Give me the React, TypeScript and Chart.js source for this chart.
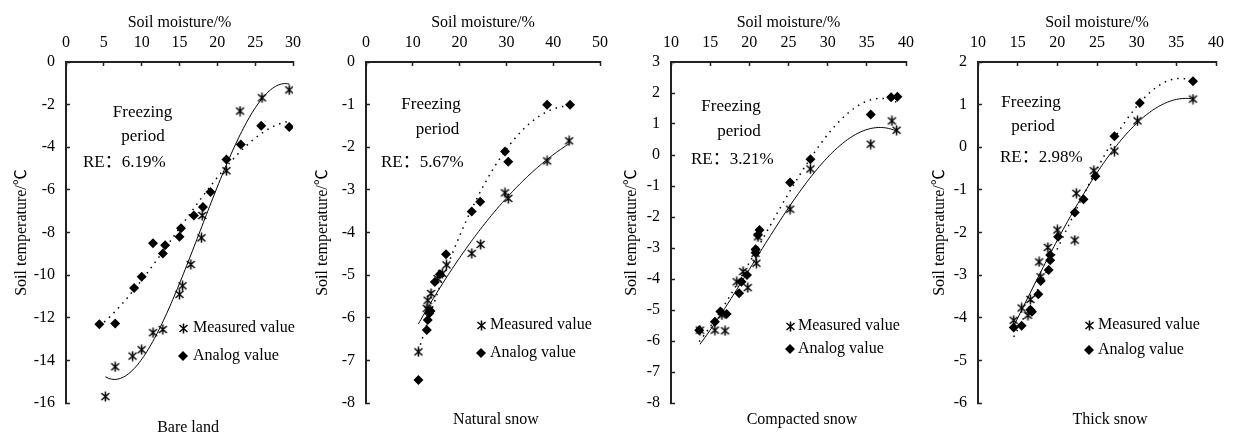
import React, { useEffect, useRef } from 'react';
import { Chart, registerables } from 'chart.js';

Chart.register(...registerables);

// ---------- DATA ----------
// Panel 1: Bare land
const bareMeasuredX = [5.2, 6.5, 8.8, 10.0, 11.5, 12.8, 15.0, 15.4, 16.5, 17.9, 18.0, 21.2, 23.0, 25.9, 29.5];
const bareMeasuredY = [-15.7, -14.3, -13.8, -13.5, -12.7, -12.55, -10.9, -10.5, -9.5, -8.25, -7.2, -5.1, -2.3, -1.68, -1.31];
const bareAnalogX = [4.4, 6.5, 9.0, 10.0, 11.5, 12.8, 13.1, 15.0, 15.2, 16.9, 18.1, 19.1, 21.2, 23.1, 25.8, 29.5];
const bareAnalogY = [-12.3, -12.27, -10.6, -10.08, -8.5, -8.98, -8.6, -8.2, -7.8, -7.2, -6.8, -6.1, -4.57, -3.87, -2.99, -3.05];

// Panel 2: Natural snow
const naturalMeasuredX = [11.2, 13.0, 13.2, 13.3, 13.9, 15.3, 16.3, 17.2, 22.6, 24.5, 29.7, 30.4, 38.7, 43.4];
const naturalMeasuredY = [-6.8, -5.78, -5.59, -5.82, -5.43, -5.08, -4.96, -4.76, -4.49, -4.28, -3.07, -3.2, -2.32, -1.85];
const naturalAnalogX = [11.2, 13.0, 13.2, 13.5, 13.8, 14.7, 15.8, 17.1, 22.6, 24.4, 29.7, 30.4, 38.7, 43.6];
const naturalAnalogY = [-7.46, -6.29, -6.05, -5.9, -5.84, -5.16, -4.98, -4.51, -3.51, -3.28, -2.1, -2.34, -1.0, -1.0];

// Panel 3: Compacted snow
const compactedMeasuredX = [13.7, 15.6, 16.5, 16.9, 18.4, 19.2, 19.8, 20.8, 20.9, 21.1, 25.2, 27.8, 35.5, 38.2, 38.8];
const compactedMeasuredY = [-5.65, -5.65, -5.16, -5.67, -4.09, -3.76, -4.28, -3.17, -3.49, -2.64, -1.75, -0.45, 0.35, 1.1, 0.8];
const compactedAnalogX = [13.6, 15.6, 16.3, 17.1, 18.7, 19.0, 19.7, 20.8, 20.8, 21.1, 21.3, 25.2, 27.8, 35.5, 38.1, 38.9];
const compactedAnalogY = [-5.65, -5.38, -5.05, -5.13, -4.46, -4.09, -3.87, -3.15, -3.04, -2.58, -2.42, -0.89, -0.14, 1.31, 1.86, 1.88];

// Panel 4: Thick snow
const thickMeasuredX = [14.5, 15.5, 16.3, 16.6, 17.7, 17.9, 18.8, 20.0, 22.2, 22.4, 24.6, 27.2, 30.1, 37.1];
const thickMeasuredY = [-4.06, -3.77, -3.94, -3.57, -2.69, -3.04, -2.35, -1.94, -2.18, -1.08, -0.55, -0.09, 0.62, 1.13];
const thickAnalogX = [14.5, 15.5, 16.6, 16.8, 17.6, 17.9, 18.9, 19.1, 19.1, 20.1, 22.2, 23.3, 24.8, 27.2, 30.4, 37.1];
const thickAnalogY = [-4.23, -4.19, -3.81, -3.86, -3.45, -3.14, -2.88, -2.65, -2.53, -2.1, -1.53, -1.22, -0.68, 0.26, 1.04, 1.55];

const panelNames = ['Bare land', 'Natural snow', 'Compacted snow', 'Thick snow'];
const relativeErrors = ['6.19%', '5.67%', '3.21%', '2.98%'];
const xTitle = 'Soil moisture/%';
const yTitle = 'Soil temperature/\u2103';
const legendLabels = ['Measured value', 'Analog value'];
const annotationLines = ['Freezing', 'period'];

// ---------- HELPERS ----------
const FONT = '"Liberation Serif", "Times New Roman", "Noto Sans CJK SC", serif';
const INK = '#000';

function fitPoly(xs: number[], ys: number[], deg: number) {
  const n = xs.length;
  const mx = xs.reduce((a, b) => a + b, 0) / n;
  const sx = Math.sqrt(xs.reduce((a, b) => a + (b - mx) ** 2, 0) / n) || 1;
  const m = deg + 1;
  const A = Array.from({ length: m }, () => new Array(m + 1).fill(0));
  for (let k = 0; k < n; k++) {
    const t = (xs[k] - mx) / sx;
    for (let i = 0; i < m; i++) {
      for (let j = 0; j < m; j++) A[i][j] += t ** (i + j);
      A[i][m] += t ** i * ys[k];
    }
  }
  for (let c = 0; c < m; c++) {
    let p = c;
    for (let r = c + 1; r < m; r++) if (Math.abs(A[r][c]) > Math.abs(A[p][c])) p = r;
    const tmp = A[c]; A[c] = A[p]; A[p] = tmp;
    for (let r = 0; r < m; r++) {
      if (r === c) continue;
      const f = A[r][c] / A[c][c];
      for (let k = c; k <= m; k++) A[r][k] -= f * A[c][k];
    }
  }
  const coef = A.map((row, i) => row[m] / row[i]);
  return (x: number) => {
    const t = (x - mx) / sx;
    let s = 0;
    for (let i = m - 1; i >= 0; i--) s = s * t + coef[i];
    return s;
  };
}

function trend(xs: number[], ys: number[], deg: number) {
  const f = fitPoly(xs, ys, deg);
  const lo = Math.min(...xs);
  const hi = Math.max(...xs);
  const pts: { x: number; y: number }[] = [];
  const N = 120;
  for (let i = 0; i <= N; i++) {
    const x = lo + ((hi - lo) * i) / N;
    pts.push({ x, y: f(x) });
  }
  return pts;
}

function zip(xs: number[], ys: number[]) {
  return xs.map((x, i) => ({ x, y: ys[i] }));
}

let starCanvas: HTMLCanvasElement | null = null;
function starMarker() {
  if (starCanvas) return starCanvas;
  const c = document.createElement('canvas');
  c.width = 11;
  c.height = 11;
  const g = c.getContext('2d')!;
  g.strokeStyle = '#000';
  g.lineWidth = 1.5;
  g.lineCap = 'butt';
  g.beginPath();
  g.moveTo(1.5, 2); g.lineTo(9.5, 9);
  g.moveTo(9.5, 2); g.lineTo(1.5, 9);
  g.moveTo(5.5, 0.5); g.lineTo(5.5, 10.5);
  g.stroke();
  starCanvas = c;
  return c;
}

type PanelCfg = {
  left: number; width: number; yAxisWidth: number; padRight: number;
  xMin: number; xMax: number; xStep: number;
  yMin: number; yMax: number; yStep: number;
  yTitlePad: number;
  mX: number[]; mY: number[]; aX: number[]; aY: number[];
  mDeg: number; aDeg: number;
  freezing: [number, number]; period: [number, number]; re: [number, number];
  legendX: number; legendTextX: number; legendY: [number, number];
  label: [number, number];
};

const panels: PanelCfg[] = [
  {
    left: 0, width: 305, yAxisWidth: 66, padRight: 12,
    xMin: 0, xMax: 30, xStep: 5, yMin: -16, yMax: 0, yStep: 2, yTitlePad: 12,
    mX: bareMeasuredX, mY: bareMeasuredY, aX: bareAnalogX, aY: bareAnalogY, mDeg: 3, aDeg: 3,
    freezing: [142.5, 113], period: [143, 137], re: [83, 163],
    legendX: 183, legendTextX: 193, legendY: [328, 356], label: [188, 428],
  },
  {
    left: 305, width: 305, yAxisWidth: 61, padRight: 10,
    xMin: 0, xMax: 50, xStep: 10, yMin: -8, yMax: 0, yStep: 1, yTitlePad: 8,
    mX: naturalMeasuredX, mY: naturalMeasuredY, aX: naturalAnalogX, aY: naturalAnalogY, mDeg: 2, aDeg: 2,
    freezing: [431, 105], period: [437.5, 130], re: [381, 163],
    legendX: 481, legendTextX: 490, legendY: [325, 353], label: [496, 420],
  },
  {
    left: 610, width: 310, yAxisWidth: 61, padRight: 14,
    xMin: 10, xMax: 40, xStep: 5, yMin: -8, yMax: 3, yStep: 1, yTitlePad: 12,
    mX: compactedMeasuredX, mY: compactedMeasuredY, aX: compactedAnalogX, aY: compactedAnalogY, mDeg: 3, aDeg: 3,
    freezing: [731, 107], period: [739, 132], re: [691, 160],
    legendX: 790, legendTextX: 798, legendY: [326, 349], label: [802, 420],
  },
  {
    left: 920, width: 315, yAxisWidth: 58, padRight: 19,
    xMin: 10, xMax: 40, xStep: 5, yMin: -6, yMax: 2, yStep: 1, yTitlePad: 10,
    mX: thickMeasuredX, mY: thickMeasuredY, aX: thickAnalogX, aY: thickAnalogY, mDeg: 3, aDeg: 3,
    freezing: [1031, 103], period: [1033, 127], re: [1000, 158],
    legendX: 1089, legendTextX: 1098, legendY: [325, 350], label: [1110, 420],
  },
];

function makeTextPlugin(p: PanelCfg, idx: number) {
  return {
    id: 'panelText' + idx,
    afterDraw(chart: any) {
      const ctx = chart.ctx as CanvasRenderingContext2D;
      const L = p.left;
      ctx.save();
      ctx.fillStyle = INK;
      ctx.textBaseline = 'middle';
      ctx.font = `17px ${FONT}`;
      ctx.textAlign = 'center';
      ctx.fillText(annotationLines[0], p.freezing[0] - L, p.freezing[1]);
      ctx.fillText(annotationLines[1], p.period[0] - L, p.period[1]);
      ctx.textAlign = 'left';
      ctx.fillText('RE\uFF1A' + relativeErrors[idx], p.re[0] - L, p.re[1]);
      // legend
      ctx.font = `16px ${FONT}`;
      const star = starMarker();
      ctx.drawImage(star, Math.round(p.legendX - L - star.width / 2), Math.round(p.legendY[0] - star.height / 2));
      ctx.fillText(legendLabels[0], p.legendTextX - L, p.legendY[0]);
      const dx = p.legendX - L, dy = p.legendY[1];
      ctx.beginPath();
      ctx.moveTo(dx - 5, dy); ctx.lineTo(dx, dy - 5); ctx.lineTo(dx + 5, dy); ctx.lineTo(dx, dy + 5);
      ctx.closePath();
      ctx.fill();
      ctx.fillText(legendLabels[1], p.legendTextX - L, p.legendY[1]);
      // panel label
      ctx.textAlign = 'center';
      ctx.fillText(panelNames[idx], p.label[0] - L, p.label[1]);
      ctx.restore();
    },
  };
}

function Panel({ p, idx }: { p: PanelCfg; idx: number }) {
  const ref = useRef<HTMLCanvasElement>(null);
  useEffect(() => {
    if (!ref.current) return;
    const tickFont = { family: FONT, size: 16 };
    const chart = new Chart(ref.current, {
      type: 'scatter',
      data: {
        datasets: [
          {
            label: legendLabels[0],
            data: zip(p.mX, p.mY),
            pointStyle: starMarker() as any,
            pointRadius: 5,
            showLine: false,
          },
          {
            label: legendLabels[1],
            data: zip(p.aX, p.aY),
            pointStyle: 'rectRot',
            pointRadius: 5,
            backgroundColor: '#000',
            borderColor: '#000',
            borderWidth: 0,
            showLine: false,
          },
          {
            label: 'measured trend',
            data: trend(p.mX, p.mY, p.mDeg),
            showLine: true,
            pointRadius: 0,
            borderColor: '#000',
            borderWidth: 1,
          } as any,
          {
            label: 'analog trend',
            data: trend(p.aX, p.aY, p.aDeg),
            showLine: true,
            pointRadius: 0,
            borderColor: '#000',
            borderWidth: 1.5,
            borderDash: [1.5, 5],
          } as any,
        ],
      },
      options: {
        responsive: false,
        animation: false,
        layout: { padding: { left: 0, right: p.padRight, top: 0, bottom: 36 } },
        plugins: { legend: { display: false }, tooltip: { enabled: false }, title: { display: false } },
        scales: {
          x: {
            type: 'linear',
            position: 'top',
            min: p.xMin,
            max: p.xMax,
            ticks: { stepSize: p.xStep, font: tickFont, color: INK, padding: 14, autoSkip: false, maxRotation: 0 },
            grid: { drawOnChartArea: false, drawTicks: true, tickLength: -4, tickColor: '#222', tickWidth: 1.5 },
            border: { display: true, color: '#222', width: 2 },
            title: { display: true, text: xTitle, font: { family: FONT, size: 16 }, color: INK, padding: { top: 13, bottom: 0 } },
            afterFit: (s: any) => { s.height = 62; s.paddingLeft = 0; s.paddingRight = 0; },
          },
          y: {
            type: 'linear',
            position: 'left',
            min: p.yMin,
            max: p.yMax,
            ticks: { stepSize: p.yStep, font: tickFont, color: INK, padding: 15, autoSkip: false },
            grid: { drawOnChartArea: false, drawTicks: true, tickLength: -4, tickColor: '#222', tickWidth: 1.5 },
            border: { display: true, color: '#222', width: 2 },
            title: { display: true, text: yTitle, font: { family: FONT, size: 16 }, color: INK, padding: { top: p.yTitlePad, bottom: 0 } },
            afterFit: (s: any) => { s.width = p.yAxisWidth; s.paddingTop = 0; s.paddingBottom = 0; },
          },
        },
      },
      plugins: [makeTextPlugin(p, idx)],
    } as any);
    return () => chart.destroy();
  }, [p, idx]);
  return (
    <div style={{ position: 'absolute', left: p.left, top: 0, width: p.width, height: 439 }}>
      <canvas ref={ref} width={p.width} height={439} style={{ width: p.width, height: 439, display: 'block' }} />
    </div>
  );
}

export default function App() {
  return (
    <div style={{ position: 'absolute', left: 0, top: 0, width: 1235, height: 439, background: '#fff', overflow: 'hidden' }}>
      {panels.map((p, i) => (
        <Panel key={i} p={p} idx={i} />
      ))}
    </div>
  );
}
